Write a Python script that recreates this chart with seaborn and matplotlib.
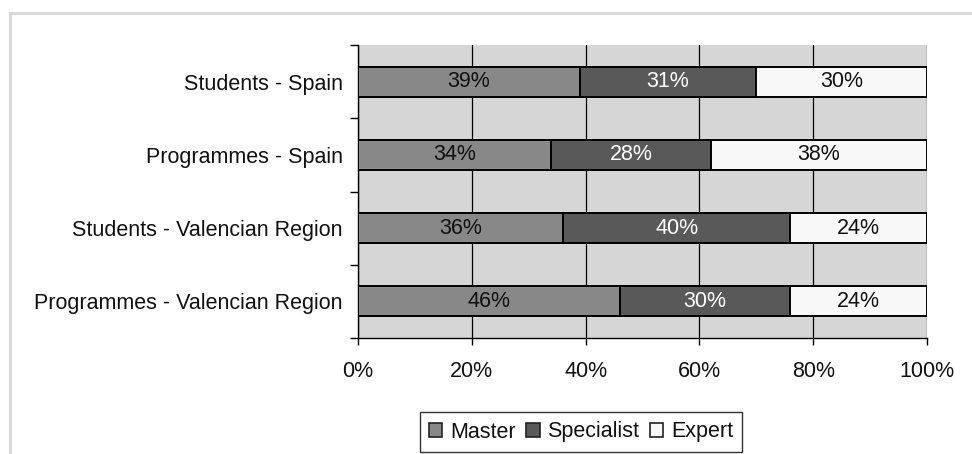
import matplotlib
matplotlib.use("Agg")
import matplotlib.pyplot as plt
from matplotlib.patches import Patch, Rectangle
from matplotlib.ticker import FixedLocator, PercentFormatter
import numpy as np
import pandas as pd
import seaborn as sns

# Share of each programme type, per group (percent)
groups = ["Students - Spain", "Programmes - Spain",
          "Students - Valencian Region", "Programmes - Valencian Region"]
master = [39, 34, 36, 46]
specialist = [31, 28, 40, 30]
expert = [30, 38, 24, 24]

series_names = ["Master", "Specialist", "Expert"]
series_colors = ["#888888", "#595959", "#f8f8f8"]
text_colors = ["#111111", "#ffffff", "#111111"]

FS = 15.5

sns.set_theme(style="white")
plt.rcParams["font.family"] = ["Liberation Sans", "DejaVu Sans"]

df = pd.DataFrame({"group": groups, "Master": master,
                   "Specialist": specialist, "Expert": expert})
df["cum_master"] = df["Master"]
df["cum_spec"] = df["Master"] + df["Specialist"]
df["cum_all"] = df["cum_spec"] + df["Expert"]

fig = plt.figure(figsize=(9.72, 4.54), dpi=100)
fig.patch.set_facecolor("white")

# light outer chart frame
fig.add_artist(Rectangle((10 / 972, -0.2), 2.0, 1 - 13 / 454 + 0.2,
                         transform=fig.transFigure, fill=False,
                         edgecolor="#d9d9d9", linewidth=2.2, zorder=0))

ax = fig.add_axes([358 / 972, 1 - 338 / 454, (927 - 358) / 972, (338 - 45) / 454])
ax.set_facecolor("#d6d6d6")

bar_kw = dict(orient="h", width=0.41, edgecolor="black", linewidth=1.4,
              ax=ax, zorder=3)
# stacked bars drawn as cumulative totals, from the longest down
sns.barplot(data=df, x="cum_all", y="group", color=series_colors[2], **bar_kw)
sns.barplot(data=df, x="cum_spec", y="group", color=series_colors[1], **bar_kw)
sns.barplot(data=df, x="cum_master", y="group", color=series_colors[0], **bar_kw)
for p in ax.patches:
    p.set_facecolor(p.get_facecolor()[:3] + (1.0,))

# value labels centred in each segment
for i in range(len(groups)):
    starts = [0, master[i], master[i] + specialist[i]]
    vals = [master[i], specialist[i], expert[i]]
    for s, v, tc in zip(starts, vals, text_colors):
        ax.text(s + v / 2, i, f"{v}%", ha="center", va="center",
                fontsize=FS, color=tc, zorder=5)

ax.set_xlim(0, 100)
ax.set_ylim(len(groups) - 0.5, -0.5)
ax.xaxis.set_major_locator(FixedLocator([0, 20, 40, 60, 80, 100]))
ax.xaxis.set_major_formatter(PercentFormatter(decimals=0))
ax.grid(axis="x", color="black", linewidth=0.9, zorder=1)
ax.set_axisbelow(True)
ax.set_xlabel("")
ax.set_ylabel("")

ax.yaxis.set_minor_locator(FixedLocator(np.arange(-0.5, len(groups), 1.0)))
ax.tick_params(axis="y", which="major", length=0, pad=11, labelsize=FS,
               labelcolor="#111111")
ax.tick_params(axis="y", which="minor", length=6, width=1.0, color="black",
               direction="out", left=True)
ax.tick_params(axis="x", which="major", length=5, width=1.0, color="black",
               direction="out", bottom=True, pad=11.5, labelsize=FS,
               labelcolor="#111111")

for side in ["top", "right"]:
    ax.spines[side].set_visible(False)
for side in ["left", "bottom"]:
    ax.spines[side].set_visible(True)
    ax.spines[side].set_color("black")
    ax.spines[side].set_linewidth(1.0)

handles = [Patch(facecolor=c, edgecolor="#222222", linewidth=1.2, label=n)
           for n, c in zip(series_names, series_colors)]
leg = fig.legend(handles=handles, loc="center", ncol=3,
                 bbox_to_anchor=(581 / 972, 1 - 432 / 454),
                 fontsize=FS, frameon=True, fancybox=False,
                 handlelength=0.62, handleheight=0.62, handletextpad=0.35,
                 columnspacing=0.5, borderpad=0.42, edgecolor="black")
leg.get_frame().set_linewidth(1.0)
for t in leg.get_texts():
    t.set_color("#111111")

fig.savefig("out.png", dpi=100, facecolor="white")
